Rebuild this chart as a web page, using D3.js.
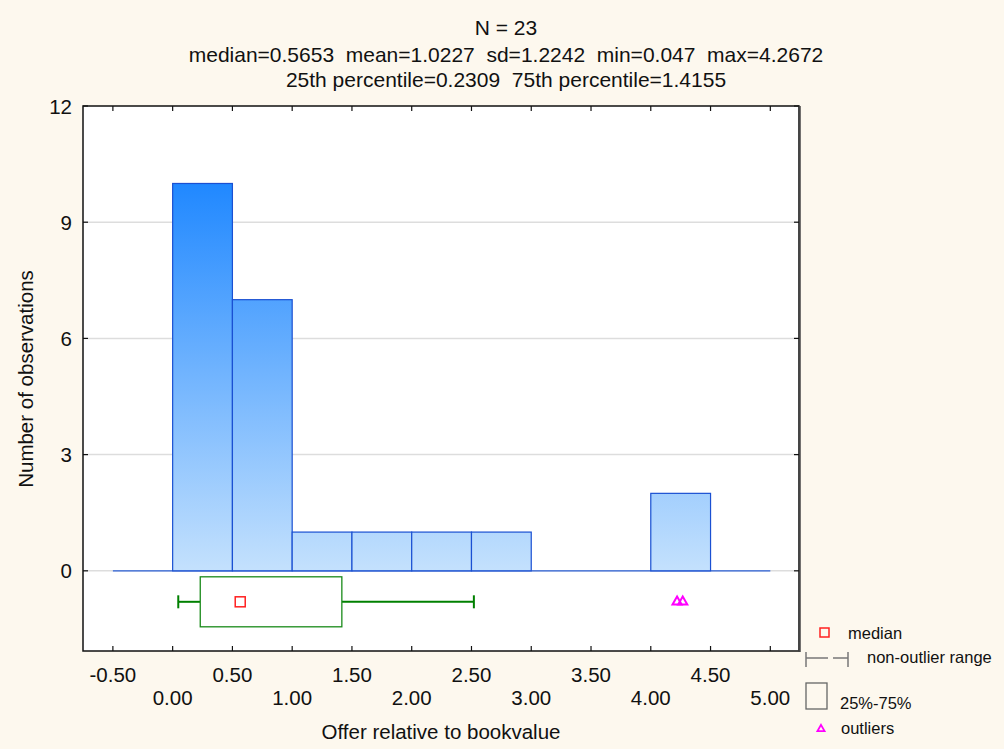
<!DOCTYPE html>
<html>
<head>
<meta charset="utf-8">
<script src="https://cdn.jsdelivr.net/npm/d3@7"></script>
<style>
  body { margin: 0; background: #fdf8ee; }
  svg { display: block; font-family: "Liberation Sans", Arial, sans-serif; }
</style>
</head>
<body>
<svg id="chart" width="1004" height="749"></svg>
<script>
// histogram bins (lower edges) and counts
const binStarts = [0.0, 0.5, 1.0, 1.5, 2.0, 2.5, 3.0, 3.5, 4.0];
const binWidth = 0.5;
const counts = [10, 7, 1, 1, 1, 1, 0, 0, 2];

// box plot summary
const boxStats = { q1: 0.2309, median: 0.5653, q3: 1.4155, lo: 0.047, hi: 2.52 };
const outliers = [4.22, 4.2672];

// axis ticks
const xTicks = [-0.5, 0.0, 0.5, 1.0, 1.5, 2.0, 2.5, 3.0, 3.5, 4.0, 4.5, 5.0];
const yTicks = [0, 3, 6, 9, 12];

const titleLines = [
  "N = 23",
  "median=0.5653  mean=1.0227  sd=1.2242  min=0.047  max=4.2672",
  "25th percentile=0.2309  75th percentile=1.4155"
];

const svg = d3.select('#chart');
const W = 1004, H = 749;
svg.append('rect').attr('width', W).attr('height', H).attr('fill', '#fdf8ee');

const plot = { left: 83, right: 799, top: 106, bottom: 651 };

const x = d3.scaleLinear().domain([-0.75, 5.24]).range([plot.left, plot.right]);
const y = d3.scaleLinear().domain([-2.07, 12]).range([plot.bottom, plot.top]);

// gradient for bars, in user space so taller bars get darker tops
const defs = svg.append('defs');
const grad = defs.append('linearGradient')
    .attr('id', 'barGrad')
    .attr('gradientUnits', 'userSpaceOnUse')
    .attr('x1', 0).attr('x2', 0)
    .attr('y1', y(10)).attr('y2', y(0));
grad.append('stop').attr('offset', '0%').attr('stop-color', '#2088ff');
grad.append('stop').attr('offset', '100%').attr('stop-color', '#c4e1fd');

// plot area
svg.append('rect')
    .attr('x', plot.left).attr('y', plot.top)
    .attr('width', plot.right - plot.left).attr('height', plot.bottom - plot.top)
    .attr('fill', 'white');

// gridlines
svg.append('g')
    .selectAll('line')
    .data(yTicks.filter(d => d < 12))
    .enter().append('line')
    .attr('x1', plot.left).attr('x2', plot.right)
    .attr('y1', d => y(d)).attr('y2', d => y(d))
    .attr('stroke', '#dddddd')
    .attr('stroke-width', 1.5);

// baseline over the histogram range
svg.append('line')
    .attr('x1', x(xTicks[0])).attr('x2', x(xTicks[xTicks.length - 1]))
    .attr('y1', y(0)).attr('y2', y(0))
    .attr('stroke', '#2a5fd6')
    .attr('stroke-width', 1.2);

// bars
svg.append('g')
    .selectAll('rect')
    .data(binStarts.map((s, i) => ({ s, c: counts[i] })).filter(d => d.c > 0))
    .enter().append('rect')
    .attr('x', d => x(d.s))
    .attr('y', d => y(d.c))
    .attr('width', d => x(d.s + binWidth) - x(d.s))
    .attr('height', d => y(0) - y(d.c))
    .attr('fill', 'url(#barGrad)')
    .attr('stroke', '#1a50d2')
    .attr('stroke-width', 1.2);

// box plot
const by = y(-0.8);
const bp = svg.append('g');
bp.append('line')
    .attr('x1', x(boxStats.lo)).attr('x2', x(boxStats.q1))
    .attr('y1', by).attr('y2', by)
    .attr('stroke', '#008000').attr('stroke-width', 2);
bp.append('line')
    .attr('x1', x(boxStats.q3)).attr('x2', x(boxStats.hi))
    .attr('y1', by).attr('y2', by)
    .attr('stroke', '#008000').attr('stroke-width', 2);
[boxStats.lo, boxStats.hi].forEach(v => {
    bp.append('line')
        .attr('x1', x(v)).attr('x2', x(v))
        .attr('y1', by - 6.5).attr('y2', by + 6.5)
        .attr('stroke', '#008000').attr('stroke-width', 2);
});
bp.append('rect')
    .attr('x', x(boxStats.q1)).attr('y', by - 25)
    .attr('width', x(boxStats.q3) - x(boxStats.q1)).attr('height', 50)
    .attr('fill', 'white')
    .attr('stroke', '#1a8a1a').attr('stroke-width', 1.3);
bp.append('rect')
    .attr('x', x(boxStats.median) - 5).attr('y', by - 5)
    .attr('width', 10).attr('height', 10)
    .attr('fill', 'none')
    .attr('stroke', '#ff2020').attr('stroke-width', 1.5);

const tri = d3.symbol().type(d3.symbolTriangle).size(36);
bp.selectAll('path.outlier')
    .data(outliers)
    .enter().append('path')
    .attr('class', 'outlier')
    .attr('d', tri)
    .attr('transform', d => `translate(${x(d)},${by})`)
    .attr('fill', 'none')
    .attr('stroke', '#ff00ff')
    .attr('stroke-width', 2);

// frame
svg.append('rect')
    .attr('x', plot.left).attr('y', plot.top)
    .attr('width', plot.right - plot.left).attr('height', plot.bottom - plot.top)
    .attr('fill', 'none')
    .attr('stroke', '#111')
    .attr('stroke-width', 1.5);
svg.append('line')
    .attr('x1', plot.right + 0.5).attr('x2', plot.right + 0.5)
    .attr('y1', plot.top).attr('y2', plot.bottom + 1)
    .attr('stroke', '#444').attr('stroke-width', 2.5);

// ticks pointing inward on all four sides
const tickG = svg.append('g').attr('stroke', '#111').attr('stroke-width', 1.2);
xTicks.forEach(t => {
    tickG.append('line').attr('x1', x(t)).attr('x2', x(t))
        .attr('y1', plot.bottom).attr('y2', plot.bottom - 5);
    tickG.append('line').attr('x1', x(t)).attr('x2', x(t))
        .attr('y1', plot.top).attr('y2', plot.top + 5);
});
yTicks.forEach(t => {
    tickG.append('line').attr('x1', plot.left).attr('x2', plot.left + 5)
        .attr('y1', y(t)).attr('y2', y(t));
    tickG.append('line').attr('x1', plot.right).attr('x2', plot.right - 5)
        .attr('y1', y(t)).attr('y2', y(t));
});

// x tick labels, staggered on two rows
svg.append('g')
    .selectAll('text')
    .data(xTicks)
    .enter().append('text')
    .attr('x', d => x(d))
    .attr('y', (d, i) => i % 2 === 0 ? 682 : 705)
    .attr('text-anchor', 'middle')
    .attr('font-size', 20.5)
    .attr('fill', '#111')
    .text(d => d3.format('.2f')(d).replace('\u2212', '-'));

// y tick labels
svg.append('g')
    .selectAll('text')
    .data(yTicks)
    .enter().append('text')
    .attr('x', 72)
    .attr('y', d => y(d))
    .attr('dy', '0.37em')
    .attr('text-anchor', 'end')
    .attr('font-size', 20.5)
    .attr('fill', '#111')
    .text(d => d);

// axis titles
svg.append('text')
    .attr('x', 441).attr('y', 739)
    .attr('text-anchor', 'middle')
    .attr('font-size', 20.5)
    .attr('fill', '#111')
    .text('Offer relative to bookvalue');
svg.append('text')
    .attr('transform', 'translate(33,379) rotate(-90)')
    .attr('text-anchor', 'middle')
    .attr('font-size', 20.5)
    .attr('fill', '#111')
    .text('Number of observations');

// titles
svg.append('g')
    .selectAll('text')
    .data(titleLines)
    .enter().append('text')
    .attr('x', 506)
    .attr('y', (d, i) => [35, 62, 87][i])
    .attr('text-anchor', 'middle')
    .attr('font-size', 21)
    .attr('fill', '#111')
    .style('white-space', 'pre')
    .attr('xml:space', 'preserve')
    .text(d => d);

// legend
const lg = svg.append('g').attr('font-size', 16.5).attr('fill', '#111');
lg.append('rect').attr('x', 820).attr('y', 628).attr('width', 9).attr('height', 9)
    .attr('fill', 'none').attr('stroke', '#ff2020').attr('stroke-width', 1.5);
lg.append('text').attr('x', 848).attr('y', 639).text('median');

const lgr = lg.append('g').attr('stroke', '#777').attr('stroke-width', 1.5);
lgr.append('line').attr('x1', 806).attr('x2', 828).attr('y1', 658).attr('y2', 658);
lgr.append('line').attr('x1', 833).attr('x2', 848).attr('y1', 658).attr('y2', 658);
lgr.append('line').attr('x1', 806).attr('x2', 806).attr('y1', 652).attr('y2', 667);
lgr.append('line').attr('x1', 848).attr('x2', 848).attr('y1', 652).attr('y2', 667);
lg.append('text').attr('x', 867).attr('y', 663).text('non-outlier range');

lg.append('rect').attr('x', 806).attr('y', 683).attr('width', 21).attr('height', 26)
    .attr('fill', 'none').attr('stroke', '#666').attr('stroke-width', 1.3);
lg.append('text').attr('x', 840).attr('y', 709).text('25%-75%');

lg.append('path').attr('d', d3.symbol().type(d3.symbolTriangle).size(22))
    .attr('transform', 'translate(821,729)')
    .attr('fill', 'none').attr('stroke', '#ff00ff').attr('stroke-width', 1.8);
lg.append('text').attr('x', 841).attr('y', 734).text('outliers');
</script>
</body>
</html>
